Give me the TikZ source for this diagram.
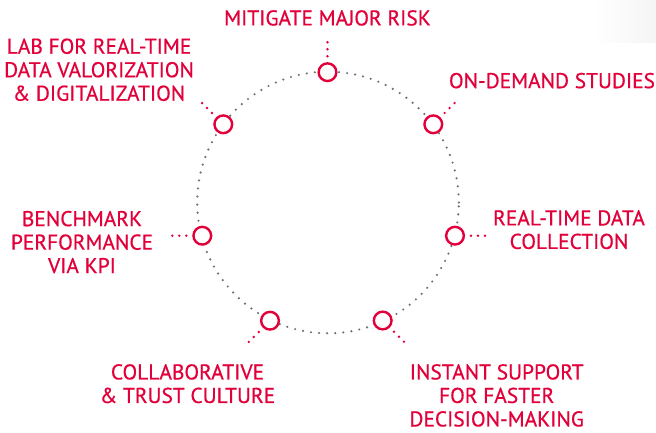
\documentclass[tikz,border=0pt]{standalone}
\usepackage{fontspec}
\newfontfamily\labelfont[FakeBold=0.6]{PT Sans}
\definecolor{brandred}{RGB}{226,0,58}
\definecolor{dotgray}{RGB}{112,112,112}
\tikzset{
  ring/.style={draw=dotgray, line width=2.4pt, line cap=round, dash pattern=on 0pt off 8.1pt},
  hub/.style={circle, draw=brandred, line width=2.4pt, fill=white, minimum size=17.7pt, inner sep=0pt},
  tickdot/.style={fill=brandred},
  lbl/.style={text=brandred, align=center, anchor=north, inner sep=0pt,
    font=\labelfont\fontsize{21.4}{23.5}\selectfont}
}
\begin{document}
\begin{tikzpicture}[x=1pt, y=-1pt]
\useasboundingbox (0,0) rectangle (656,433);
\shade[left color=white, right color=black!4, draw=none] (593,0) rectangle (656,43);
\coordinate (o) at (328,202.5);
\draw[ring] (o) circle (130.8pt);
\node[hub] (c1) at (327.5,72.2) {};
\node[hub] (c2) at (433.3,124.3) {};
\node[hub] (c3) at (455,235.7) {};
\node[hub] (c4) at (382.7,320.5) {};
\node[hub] (c5) at (270,320.7) {};
\node[hub] (c6) at (202.3,235.7) {};
\node[hub] (c7) at (223.3,124.3) {};
\foreach \c/\a in {c1/-90, c2/-45, c3/0, c4/45, c5/135, c6/180, c7/-135}{
  \foreach \d in {16,23,30}{
    \fill[tickdot] (\c) ++(\a:\d) circle (1.35pt);
  }
}
\node[lbl] (t1) at (327.5,10) {MITIGATE MAJOR RISK};
\node[lbl] (t2) at (99,38.3) {LAB FOR REAL-TIME\\DATA VALORIZATION\\\& DIGITALIZATION};
\node[lbl] (t3) at (552,72.7) {ON-DEMAND STUDIES};
\node[lbl] (t4) at (569,210) {REAL-TIME DATA\\COLLECTION};
\node[lbl] (t5) at (496.7,364) {INSTANT SUPPORT\\FOR FASTER\\DECISION-MAKING};
\node[lbl] (t6) at (187.5,364) {COLLABORATIVE\\\& TRUST CULTURE};
\node[lbl] (t7) at (82,210.7) {BENCHMARK\\PERFORMANCE\\VIA KPI};
\end{tikzpicture}
\end{document}
